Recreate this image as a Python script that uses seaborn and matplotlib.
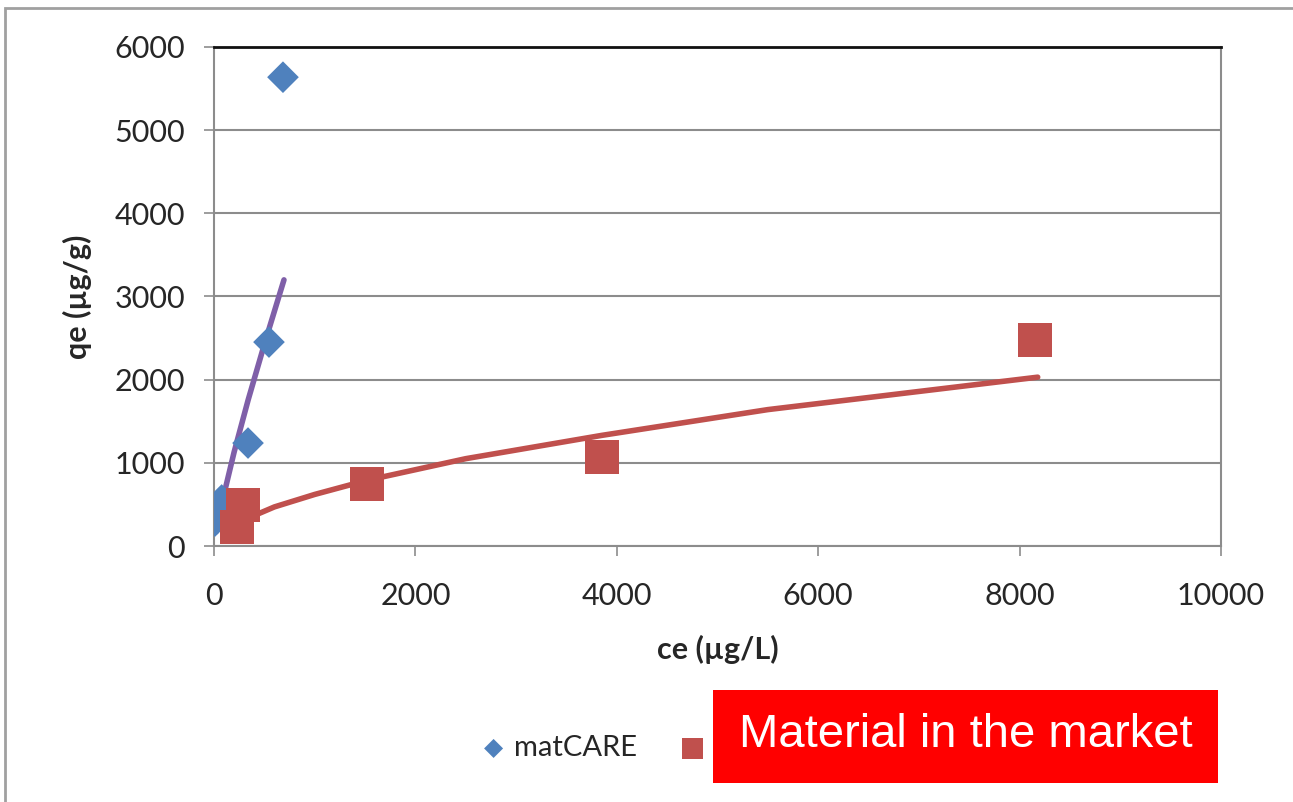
import numpy as np
import matplotlib.pyplot as plt
import matplotlib.patches as mpatches
import pandas as pd
import seaborn as sns

# punkty pomiarowe
mat_ce = [10, 76, 0, 338, 546, 685]
mat_qe = [300, 553, 312, 1238, 2452, 5637]
mkt_ce = [225, 291, 1519, 3853, 8153]
mkt_qe = [232, 493, 745, 1070, 2476]

# linie trendu
mat_fit_ce = [20, 85, 200, 340, 506, 695]
mat_fit_qe = [170, 550, 1130, 1760, 2450, 3200]
mkt_fit_ce = [290, 600, 1000, 1520, 2500, 3850, 5500, 8180]
mkt_fit_qe = [310, 470, 620, 790, 1050, 1330, 1640, 2030]

xticks = [0, 2000, 4000, 6000, 8000, 10000]
yticks = [0, 1000, 2000, 3000, 4000, 5000, 6000]

sns.set_style('white')
plt.rcParams['font.family'] = ['Lato', 'DejaVu Sans']

fig = plt.figure(figsize=(12.93, 8.02), dpi=100)
ax = fig.add_axes([0.1655, 0.3192, 0.7788, 0.6222])

df_fit1 = pd.DataFrame({'ce': mat_fit_ce, 'qe': mat_fit_qe})
df_fit2 = pd.DataFrame({'ce': mkt_fit_ce, 'qe': mkt_fit_qe})
sns.lineplot(data=df_fit2, x='ce', y='qe', sort=False, color='#C0504D', lw=4, ax=ax, zorder=2)
sns.lineplot(data=df_fit1, x='ce', y='qe', sort=False, color='#7F5FA8', lw=4, ax=ax, zorder=2)

df1 = pd.DataFrame({'ce': mat_ce, 'qe': mat_qe})
df2 = pd.DataFrame({'ce': mkt_ce, 'qe': mkt_qe})
sns.scatterplot(data=df1, x='ce', y='qe', marker='D', s=260, color='#4F81BD',
                edgecolor='none', ax=ax, zorder=3, label='matCARE')
sns.scatterplot(data=df2, x='ce', y='qe', marker='s', s=600, color='#C0504D',
                edgecolor='none', ax=ax, zorder=3, label='Material in the market')

ax.set_xlim(0, 10000)
ax.set_ylim(0, 6000)
ax.set_xticks(xticks)
ax.set_yticks(yticks)
ax.grid(axis='y', color='#8c8c8c', lw=1.5)
ax.tick_params(axis='both', labelsize=22, length=7, width=1.2, color='#8c8c8c',
               direction='out', left=True, bottom=True)
ax.tick_params(axis='x', pad=19)
ax.tick_params(axis='y', pad=14)
for s in ['left', 'right', 'bottom']:
    ax.spines[s].set_color('#8c8c8c')
    ax.spines[s].set_linewidth(1.5)
ax.spines['top'].set_color('#111111')
ax.spines['top'].set_linewidth(2)

ax.set_xlabel('ce (µg/L)', fontsize=22, fontweight='bold', labelpad=18)
ax.set_ylabel('qe (µg/g)', fontsize=22, fontweight='bold', labelpad=16)

leg = ax.legend(loc='center left', bbox_to_anchor=(0.24, -0.405), ncol=2, frameon=False,
                fontsize=21, handlelength=0.8, handletextpad=0.3, columnspacing=1.5,
                markerscale=0.6)
# druga etykieta legendy jest zasłonięta czerwoną ramką
leg.get_texts()[1].set_visible(False)

# ramka wokół wykresu
fig.patches.append(mpatches.Rectangle((0.004, -0.05), 1.1, 1.04, transform=fig.transFigure,
                                      fill=False, edgecolor='#a0a0a0', lw=2))

# czerwona etykieta na legendzie
fig.patches.append(mpatches.Rectangle((0.5514, 0.0237), 0.3906, 0.116, transform=fig.transFigure,
                                      facecolor='#FF0000', edgecolor='none', zorder=5))
fig.text(0.7467, 0.0835, 'Material in the market', color='white',
         fontsize=34, ha='center', va='center', zorder=6,
         family=['Liberation Sans Narrow', 'Liberation Sans'])

fig.savefig('out.png', dpi=100)
